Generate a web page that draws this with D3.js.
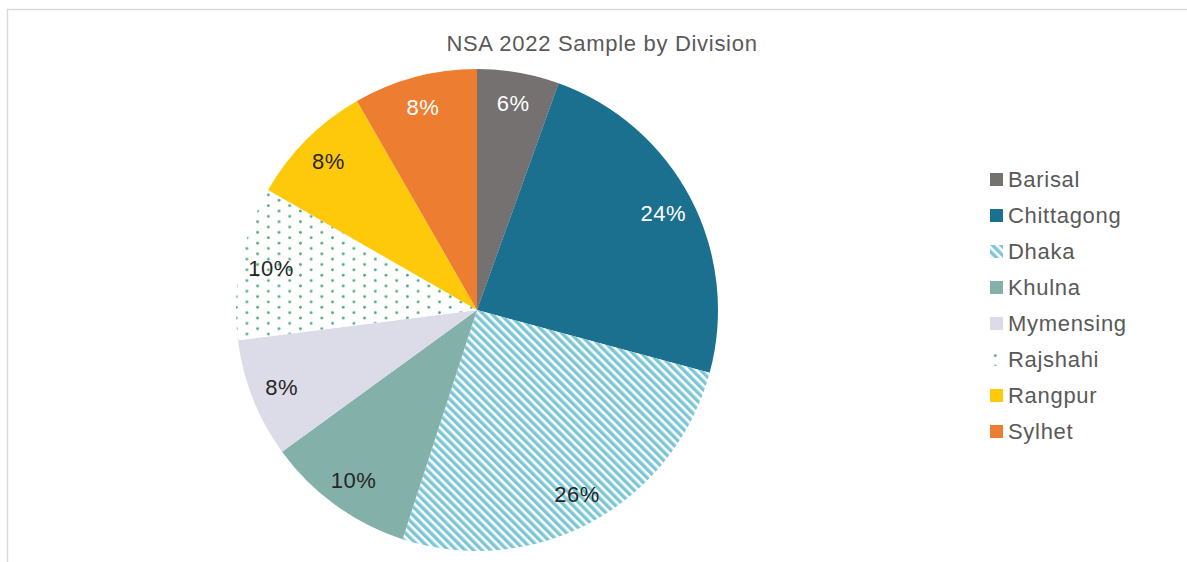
<!DOCTYPE html>
<html>
<head>
<meta charset="utf-8">
<script src="https://cdn.jsdelivr.net/npm/d3@7/dist/d3.min.js"></script>
<style>
  html, body { margin: 0; padding: 0; background: #fff; }
  svg { display: block; font-family: "Liberation Sans", Arial, sans-serif; }
</style>
</head>
<body>
<svg id="chart" width="1187" height="562"></svg>
<script>
const title = "NSA 2022 Sample by Division";
const categories = ["Barisal", "Chittagong", "Dhaka", "Khulna", "Mymensing", "Rajshahi", "Rangpur", "Sylhet"];
const values = [5.5, 23.7, 25.8, 10.0, 8.0, 10.3, 8.4, 8.3];
const valueLabels = ["6%", "24%", "26%", "10%", "8%", "10%", "8%", "8%"];
const fills = ["#767171", "#1b6f8f", "url(#stripes)", "#83b0a8", "#dcdce8", "url(#dots)", "#ffc90b", "#ed7d31"];
const labelColors = ["#ffffff", "#ffffff", "#262626", "#262626", "#262626", "#262626", "#262626", "#ffffff"];

const svg = d3.select("#chart");
const defs = svg.append("defs");

// Diagonal stripe pattern (downward diagonal)
const stripes = defs.append("pattern")
  .attr("id", "stripes")
  .attr("patternUnits", "userSpaceOnUse")
  .attr("width", 6).attr("height", 6)
  .attr("patternTransform", "rotate(-45)");
stripes.append("rect").attr("width", 6).attr("height", 6).attr("fill", "#ffffff");
stripes.append("rect").attr("x", 0).attr("width", 3.4).attr("height", 6).attr("fill", "#7cc7d5");

// Dotted pattern
const dots = defs.append("pattern")
  .attr("id", "dots")
  .attr("patternUnits", "userSpaceOnUse")
  .attr("width", 21.4).attr("height", 10.7);
dots.append("rect").attr("width", 21.4).attr("height", 10.7).attr("fill", "#ffffff");
dots.append("circle").attr("cx", 5.3).attr("cy", 2.7).attr("r", 1.4).attr("fill", "#4cab7a");
dots.append("circle").attr("cx", 16).attr("cy", 8).attr("r", 1.4).attr("fill", "#4cab7a");

// Outer frame
svg.append("rect")
  .attr("x", 7.5).attr("y", 9.5)
  .attr("width", 1300).attr("height", 700)
  .attr("fill", "none").attr("stroke", "#d9d9d9").attr("stroke-width", 1.4);

// Title
svg.append("text")
  .attr("x", 602).attr("y", 51)
  .attr("text-anchor", "middle")
  .attr("font-size", 22).attr("letter-spacing", 0.7)
  .attr("fill", "#595959")
  .text(title);

const cx = 477, cy = 310, r = 241;
const g = svg.append("g").attr("transform", `translate(${cx},${cy})`);

const data = categories.map((c, i) => ({ cat: c, value: values[i], label: valueLabels[i], fill: fills[i], lc: labelColors[i] }));
const pie = d3.pie().sort(null).value(d => d.value);
const arcs = pie(data);
const arc = d3.arc().innerRadius(0).outerRadius(r);
const labelArc = d3.arc().innerRadius(210).outerRadius(210);

g.selectAll("path.slice").data(arcs).join("path")
  .attr("class", "slice")
  .attr("d", arc)
  .attr("fill", d => d.data.fill);

g.selectAll("text.lbl").data(arcs).join("text")
  .attr("class", "lbl")
  .attr("transform", d => `translate(${labelArc.centroid(d)})`)
  .attr("text-anchor", "middle")
  .attr("dy", "0.35em")
  .attr("font-size", 22).attr("letter-spacing", 0.5)
  .attr("fill", d => d.data.lc)
  .text(d => d.data.label);

// Legend
const legend = svg.append("g").attr("transform", "translate(990,173)");
const items = legend.selectAll("g.item").data(data).join("g")
  .attr("class", "item")
  .attr("transform", (d, i) => `translate(0,${i * 36})`);
items.append("rect")
  .attr("width", 13).attr("height", 13)
  .attr("fill", d => d.fill);
items.append("text")
  .attr("x", 18).attr("y", 14)
  .attr("font-size", 22).attr("letter-spacing", 0.7)
  .attr("fill", "#595959")
  .text(d => d.cat);
</script>
</body>
</html>
